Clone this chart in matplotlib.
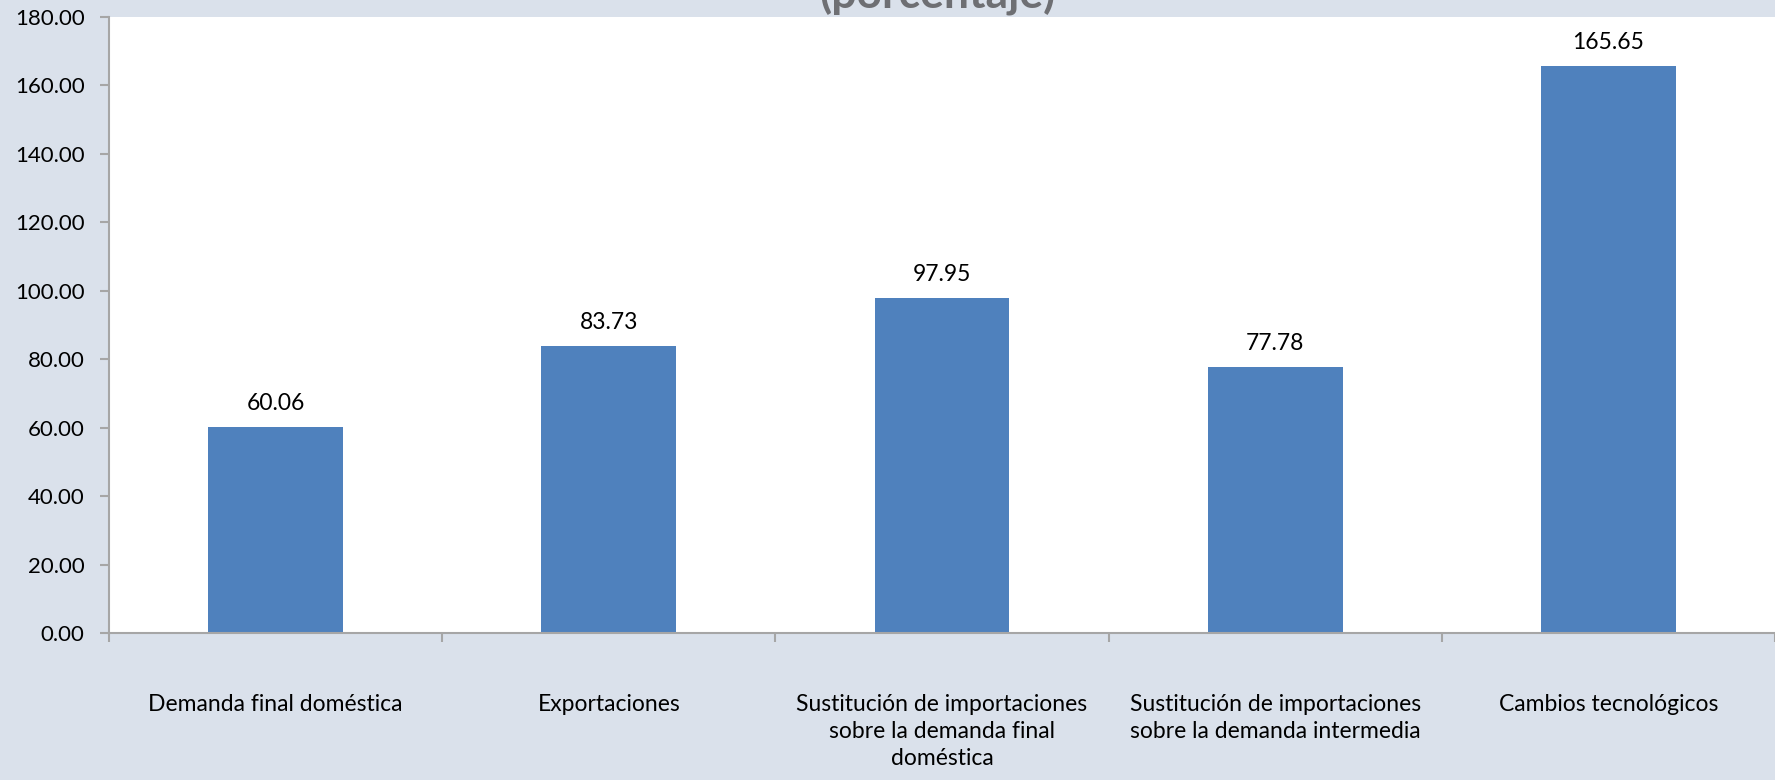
import matplotlib
matplotlib.use("Agg")

import numpy as np
import matplotlib.pyplot as plt

categories = [
    "Demanda final doméstica",
    "Exportaciones",
    "Sustitución de importaciones\nsobre la demanda final\ndoméstica",
    "Sustitución de importaciones\nsobre la demanda intermedia",
    "Cambios tecnológicos",
]
values = [60.06, 83.73, 97.95, 77.78, 165.65]
y_ticks = [0, 20, 40, 60, 80, 100, 120, 140, 160, 180]

bg = "#dae1eb"
bar_color = "#4f81bd"
axis_color = "#a6a6a6"

plt.rcParams["font.family"] = ["Lato", "DejaVu Sans"]

W, H = 1775, 780
fig = plt.figure(figsize=(W / 100, H / 100), dpi=100)
fig.patch.set_facecolor(bg)

left, top, bottom = 109, 17, 633
ax = fig.add_axes([left / W, 1 - bottom / H, (W - left) / W, (bottom - top) / H])
ax.set_facecolor("white")

x = np.arange(len(categories))
ax.bar(x, values, width=0.405, color=bar_color, zorder=2)

for xi, v in zip(x, values):
    ax.annotate(f"{v:.2f}", (xi, v), xytext=(0, 9.5), textcoords="offset points",
                ha="center", va="bottom", fontsize=16.5, color="#000000")

ax.set_xlim(-0.5, len(categories) - 0.5)
ax.set_ylim(0, 180)
ax.set_yticks(y_ticks)
ax.set_yticklabels([f"{t:.2f}" for t in y_ticks], fontsize=16)

# boundaries between categories carry the tick marks, labels sit on minor ticks
ax.set_xticks(np.arange(len(categories) + 1) - 0.5)
ax.set_xticklabels([])
ax.set_xticks(x, minor=True)
ax.set_xticklabels(categories, minor=True, fontsize=16.5, linespacing=1.36)
ax.tick_params(axis="x", which="major", length=6.5, color=axis_color, width=1.5)
ax.tick_params(axis="x", which="minor", length=0, pad=44)
ax.tick_params(axis="y", length=6.5, color=axis_color, width=1.5, pad=11)

for s in ["top", "right"]:
    ax.spines[s].set_visible(False)
for s in ["left", "bottom"]:
    ax.spines[s].set_color(axis_color)
    ax.spines[s].set_linewidth(1.5)

# title sits mostly above the canvas, only its lower part shows
fig.text(0.528, 1 - 9 / H, "(porcentaje)", ha="center", va="baseline",
         fontsize=32, fontweight="bold", color="#6e6f73")

fig.savefig("out.png", dpi=100, facecolor=bg)
